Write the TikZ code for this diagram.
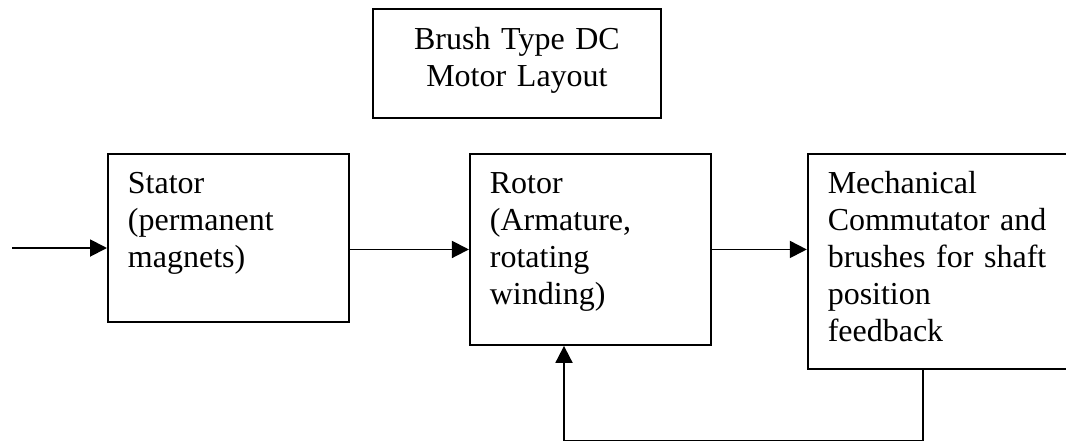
\documentclass[tikz,border=0pt]{standalone}
\usepackage{fontspec}
\setmainfont{Liberation Serif}
\usetikzlibrary{positioning,arrows.meta}

\begin{document}
\begin{tikzpicture}[
%     align = left,
     x = 1pt, y = -1pt,
     line width = 1.9pt,
     >={Triangle[length=17pt,width=17pt]},
     ->
    ]
   \tikzstyle{box}=[draw, rectangle, inner xsep=20pt, inner ysep=0pt, text height=40pt,
       font=\fontsize{32}{36.8}\selectfont, align=left, text width=201pt]
   \tikzstyle{heading}=[box, inner xsep=0pt, text width=288pt, align=center,
       text height=41pt, text depth=68pt]

   \useasboundingbox (0,0) rectangle (1066,440);

   \node [heading, anchor=north west] (title) at (372,8) {Brush Type DC\\Motor Layout};

   \node [box, text depth=128pt, anchor=north west] (stator) at (107,153)
     {Stator\\(permanent\\magnets)};
   \node [box, text depth=151pt, right=119pt of stator.north east, anchor=north west] (rotor)
     {Rotor\\(Armature,\\rotating\\winding)};
   \node [box, text depth=175pt, text width=260pt, right=95pt of rotor.north east, anchor=north west] (commutator)
     {Mechanical\\Commutator and\\brushes for shaft\\position\\feedback};

   \coordinate (supply) at (12,248);
   \coordinate (loopright) at (923,440.5);
   \coordinate (loopleft) at (564,440.5);

   \draw (supply) -- (supply -| stator.west);
   \draw (stator.east |- rotor.west) -- (rotor.west);
   \draw (rotor.east) -- (rotor.east -| commutator.west);
   \draw (commutator.south -| loopright) -- (loopright) -- (loopleft) -- (rotor.south -| loopleft);
\end{tikzpicture}
\end{document}
